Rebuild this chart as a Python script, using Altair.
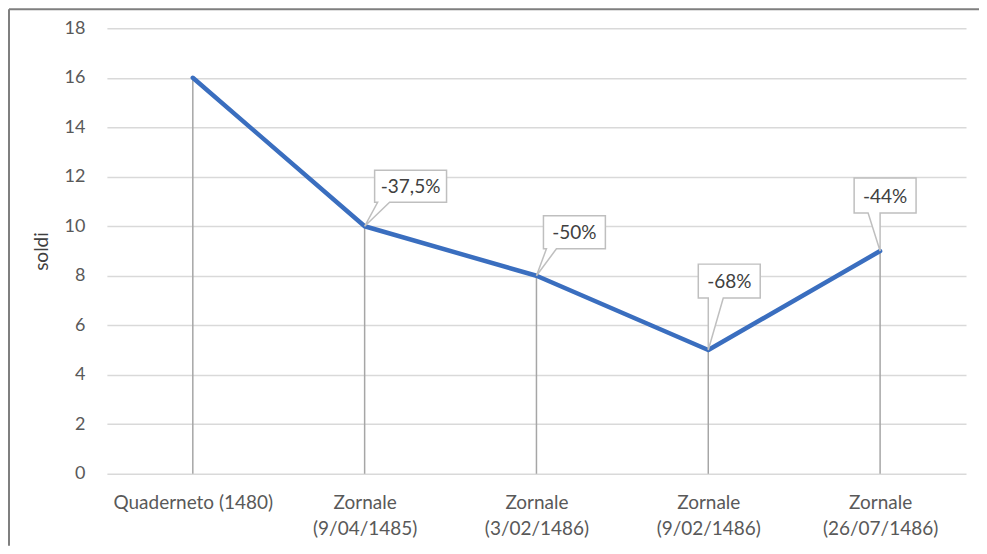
import altair as alt
import pandas as pd

# ---- data ----
categories = [
    "Quaderneto (1480)",
    "Zornale|(9/04/1485)",
    "Zornale|(3/02/1486)",
    "Zornale|(9/02/1486)",
    "Zornale|(26/07/1486)",
]
values = [16, 10, 8, 5, 9]
labels = ["", "-37,5%", "-50%", "-68%", "-44%"]
y_ticks = [0, 2, 4, 6, 8, 10, 12, 14, 16, 18]

df = pd.DataFrame({"cat": categories, "val": values, "lab": labels})

# ---- styles ----
FONT = "Lato"
LINE_BLUE = "#3a6ebf"
GRID = "#d9d9d9"
DROP = "#a6a6a6"
BOX_STROKE = "#bfbfbf"
TEXT = "#404040"
W, H = 860, 446
PAD = {"left": 99, "top": 20, "right": 13, "bottom": 72}

# callout geometry (pixels relative to the point): box L, R, T, B, tail base from t1 to t2
callout_geom = {
    "-37,5%": (10, 82, -56, -24, 13, 25),
    "-50%": (7, 69, -60, -27, 10, 20),
    "-68%": (-10, 52, -86, -52, 0, 15),
    "-44%": (-26, 36, -73, -38, -12, 0),
}

x_enc = alt.X(
    "cat:N",
    sort=None,
    scale=alt.Scale(type="point", padding=0.5),
    axis=alt.Axis(
        title=None,
        domain=False,
        ticks=False,
        grid=False,
        labelAngle=0,
        labelExpr="split(datum.label, '|')",
        labelLineHeight=26,
        labelPadding=20,
        labelFontSize=19,
        labelFont=FONT,
        labelColor="#595959",
    ),
)
y_enc = alt.Y(
    "val:Q",
    scale=alt.Scale(domain=[0, 18], nice=False, zero=True),
    axis=alt.Axis(
        title="soldi",
        values=y_ticks,
        domain=False,
        ticks=False,
        gridColor=GRID,
        gridWidth=1.5,
        labelPadding=22,
        labelFontSize=18,
        labelFont=FONT,
        labelColor="#595959",
        titleFont=FONT,
        titleFontSize=19,
        titleFontWeight="normal",
        titleColor=TEXT,
        titleX=-55,
        titleY=H / 2,
    ),
)

base = alt.Chart(df)

drops = base.mark_rule(color=DROP, strokeWidth=1.5).encode(
    x=x_enc, y=y_enc, y2=alt.datum(0)
)
line = base.mark_line(color=LINE_BLUE, strokeWidth=4.5, strokeCap="round", strokeJoin="round").encode(
    x=x_enc, y=y_enc
)

layers = [drops, line]
for lab, (L, R, T, B, t1, t2) in callout_geom.items():
    path = f"M {L} {T} L {R} {T} L {R} {B} L {t2} {B} L 0 0 L {t1} {B} L {L} {B} Z"
    sub = base.transform_filter(alt.datum.lab == lab)
    box = sub.mark_point(
        shape=path, size=4, filled=True, fill="white", stroke=BOX_STROKE,
        strokeWidth=1.5, opacity=1,
    ).encode(x=x_enc, y=y_enc)
    txt = sub.mark_text(
        font=FONT, fontSize=19, color=TEXT, align="center", baseline="middle",
        dx=(L + R) / 2, dy=(T + B) / 2 + 1,
    ).encode(x=x_enc, y=y_enc, text="lab:N")
    layers += [box, txt]

border_data = alt.Data(values=[{"a": 1}])
top_border = alt.Chart(border_data).mark_rule(color="#7f7f7f", strokeWidth=2).encode(
    x=alt.value(-PAD["left"] + 1), x2=alt.value(W + PAD["right"]), y=alt.value(-PAD["top"] + 1)
)
left_border = alt.Chart(border_data).mark_rule(color="#7f7f7f", strokeWidth=2).encode(
    x=alt.value(-PAD["left"] + 1), y=alt.value(-PAD["top"] + 1), y2=alt.value(H + PAD["bottom"])
)
layers += [top_border, left_border]

chart = alt.layer(*layers).properties(
    width=W,
    height=H,
    autosize=alt.AutoSizeParams(type="none"),
    padding=PAD,
    background="white",
).configure_view(stroke=None)

chart.save("out.html", embed_options={"renderer": "svg", "actions": False})
